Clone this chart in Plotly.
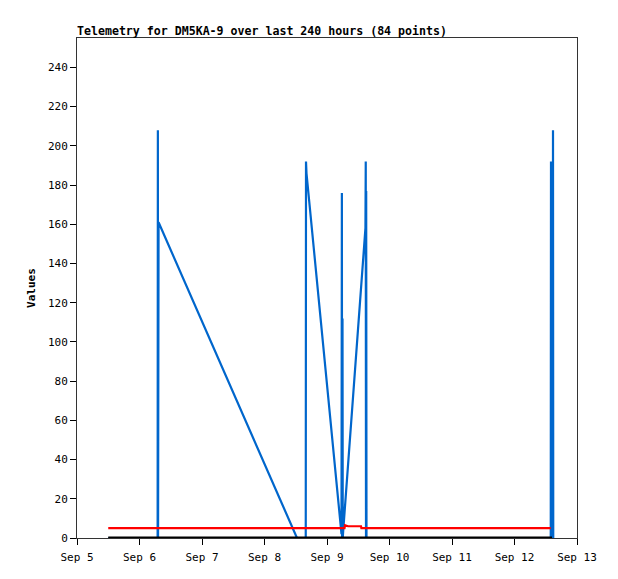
import plotly.graph_objects as go
import pandas as pd

BASE = pd.Timestamp("2023-09-01")

# Time as fractional day-of-month (September)
blue_days = [5.50, 6.290, 6.294, 6.297, 6.300, 6.305, 8.520, 8.660, 8.664, 8.672,
             9.232, 9.238, 9.241, 9.248, 9.252, 9.260, 9.615, 9.620, 9.624, 9.627,
             9.632, 12.580, 12.584, 12.590, 12.612, 12.616, 12.620]
blue_vals = [0, 0, 208, 0, 80, 161, 0, 0, 192, 186,
             2, 176, 0, 112, 0, 4, 158, 192, 0, 177,
             0, 0, 192, 0, 0, 208, 0]

red_days = [5.50, 9.280, 9.288, 9.336, 9.544, 9.550, 12.580]
red_vals = [5, 5, 6.5, 6, 6, 5, 5]

black_days = [5.50, 12.60]
black_vals = [0, 0]

x_ticks = [5, 6, 7, 8, 9, 10, 11, 12, 13]
y_ticks = list(range(0, 241, 20))


def to_time(days):
    return [BASE + pd.Timedelta(days=d - 1) for d in days]


fig = go.Figure()
fig.add_trace(go.Scatter(x=to_time(blue_days), y=blue_vals, mode="lines",
                         line=dict(color="#0066cc", width=2.2), showlegend=False))
fig.add_trace(go.Scatter(x=to_time(red_days), y=red_vals, mode="lines",
                         line=dict(color="#ff0000", width=2.2), showlegend=False))
fig.add_trace(go.Scatter(x=to_time(black_days), y=black_vals, mode="lines",
                         line=dict(color="#000000", width=3), showlegend=False))

font = "DejaVu Sans Mono, monospace"
fig.update_layout(
    width=618, height=579,
    margin=dict(l=69, r=49, t=30, b=49),
    paper_bgcolor="white", plot_bgcolor="white",
    font=dict(family=font, size=11, color="black"),
    title=dict(text="<b>Telemetry for DM5KA-9 over last 240 hours (84 points)</b>",
               x=69 / 618, xanchor="left", y=1 - 23 / 579, yanchor="middle",
               font=dict(family=font, size=11.6, color="black")),
    xaxis=dict(type="date", range=[to_time([5])[0], to_time([13])[0]],
               tickvals=to_time(x_ticks), ticktext=[f"Sep {d}" for d in x_ticks],
               showgrid=False, zeroline=False, showline=True, linecolor="#333333",
               linewidth=1, mirror=True, ticks="outside", ticklen=6, tickcolor="black",
               ticklabelstandoff=3,
               tickfont=dict(family=font, size=11)),
    yaxis=dict(range=[0, 255], tickvals=y_ticks, showgrid=False, zeroline=False,
               showline=True, linecolor="#333333", linewidth=1, mirror=True,
               ticks="outside", ticklen=6, tickcolor="black",
               title=dict(text="<b>Values</b>", standoff=10,
                          font=dict(family=font, size=11)),
               tickfont=dict(family=font, size=11)),
)

fig.write_html("out.html")
